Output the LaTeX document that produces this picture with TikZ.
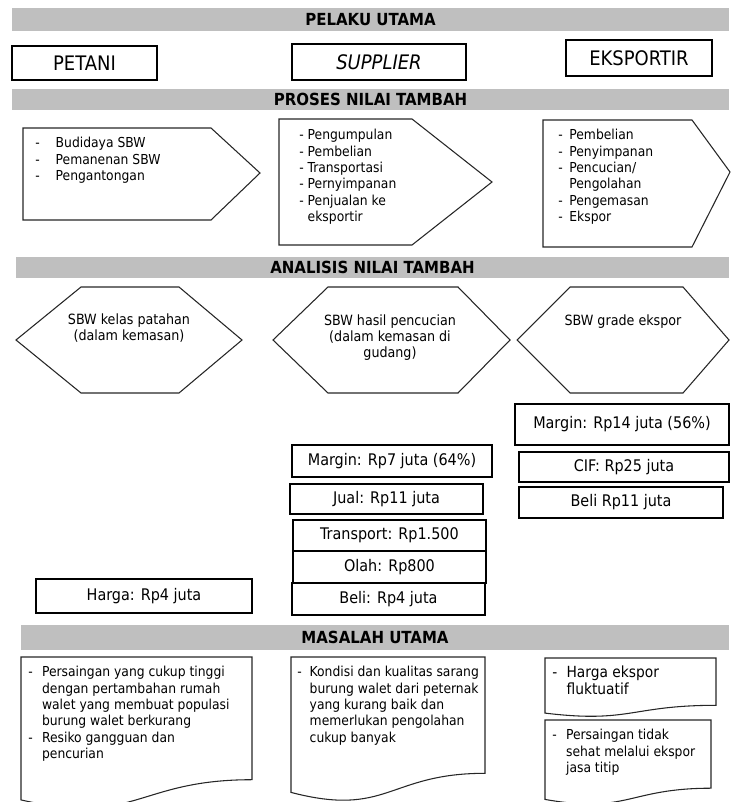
\documentclass[tikz,border=0pt]{standalone}
\usepackage{fontspec}
\setmainfont{DejaVu Sans Condensed}
\definecolor{barGray}{RGB}{191,191,191}
\tikzset{
	head bar/.style={fill=barGray, inner sep=0pt, font=\fontsize{12.5}{14}\selectfont\bfseries},
	actor box/.style={draw, line width=0.8pt, inner sep=0pt, font=\fontsize{15}{17}\selectfont},
	value box/.style={draw, line width=0.8pt, inner sep=0pt, font=\fontsize{12}{14}\selectfont},
	list text/.style={inner sep=0pt, anchor=north west, font=\fontsize{10.3}{12.3}\selectfont},
	hex text/.style={inner sep=0pt, anchor=north, align=center, font=\fontsize{10.6}{12}\selectfont},
	shape line/.style={draw=black!85, line width=0.8pt, line join=miter},
}

\begin{document}
\begin{tikzpicture}[x=0.75pt, y=-0.75pt]
\useasboundingbox (0,0) rectangle (731,802);

% pelaku utama
\node[head bar, minimum width=537.75pt, minimum height=17.25pt] (barPelaku) at (370.5,19.5) {PELAKU UTAMA};
\node[actor box, minimum width=108.75pt, minimum height=25.5pt] (petani) at (84.5,63) {PETANI};
\node[actor box, minimum width=130.5pt, minimum height=27pt] (supplier) at (379,62) {\itshape SUPPLIER};
\node[actor box, minimum width=109.5pt, minimum height=27pt] (eksportir) at (639,58) {EKSPORTIR};

% proses nilai tambah
\node[head bar, minimum width=537.75pt, minimum height=15.75pt] (barProses) at (370.5,99.5) {PROSES NILAI TAMBAH};
\draw[shape line] (23,128) -- (211,128) -- (260,173) -- (211,220) -- (23,220) -- cycle;
\draw[shape line] (279,119) -- (412,119) -- (492,182) -- (412,245) -- (279,245) -- cycle;
\draw[shape line] (543,120) -- (692,120) -- (730,172) -- (692,247) -- (543,247) -- cycle;
\node[list text] (prosesPetani) at (35,136) {%
  \begin{tabular}{@{}l@{\hspace{12pt}}l@{}}
  - & Budidaya SBW\\
  - & Pemanenan SBW\\
  - & Pengantongan
  \end{tabular}};
\node[list text] (prosesSupplier) at (299,128) {%
  \begin{tabular}{@{}l@{\hspace{3pt}}l@{}}
  - & Pengumpulan\\
  - & Pembelian\\
  - & Transportasi\\
  - & Pernyimpanan\\
  - & Penjualan ke\\
    & eksportir
  \end{tabular}};
\node[list text] (prosesEksportir) at (558,128) {%
  \begin{tabular}{@{}l@{\hspace{5pt}}l@{}}
  - & Pembelian\\
  - & Penyimpanan\\
  - & Pencucian/\\
    & Pengolahan\\
  - & Pengemasan\\
  - & Ekspor
  \end{tabular}};

% analisis nilai tambah
\node[head bar, minimum width=534.75pt, minimum height=15.75pt] (barAnalisis) at (372.5,267.5) {ANALISIS NILAI TAMBAH};
\draw[shape line] (16,340) -- (81,287) -- (179,287) -- (242,340) -- (179,393) -- (81,393) -- cycle;
\draw[shape line] (273,340) -- (328,287) -- (458,287) -- (510,340) -- (458,393) -- (328,393) -- cycle;
\draw[shape line] (517,340) -- (570,287) -- (683,287) -- (729,340) -- (683,393) -- (570,393) -- cycle;
\node[hex text] (hexPetani) at (129,313) {SBW kelas patahan\\(dalam kemasan)};
\node[hex text] (hexSupplier) at (390,314) {SBW hasil pencucian\\(dalam kemasan di\\gudang)};
\node[hex text] (hexEksportir) at (623,314) {SBW grade ekspor};

\node[value box, minimum width=160.5pt, minimum height=30.75pt] (marginEks) at (622,424.5) {Margin: Rp14 juta (56\%)};
\node[value box, minimum width=157.5pt, minimum height=22.5pt] (cifEks) at (624,467) {CIF: Rp25 juta};
\node[value box, minimum width=153pt, minimum height=23.25pt] (beliEks) at (621,502.5) {Beli Rp11 juta};
\node[value box, minimum width=150pt, minimum height=24pt] (marginSup) at (392,461) {Margin: Rp7 juta (64\%)};
\node[value box, minimum width=144.75pt, minimum height=22.5pt] (jualSup) at (386.5,499) {Jual: Rp11 juta};
\node[value box, minimum width=144.75pt, minimum height=23.25pt] (transSup) at (389.5,535.5) {Transport: Rp1.500};
\node[value box, minimum width=144.75pt, minimum height=24pt] (olahSup) at (389.5,567) {Olah: Rp800};
\node[value box, minimum width=144.75pt, minimum height=24pt] (beliSup) at (388.5,599) {Beli: Rp4 juta};
\node[value box, minimum width=162pt, minimum height=25.5pt] (hargaPet) at (144,596) {Harga: Rp4 juta};

% masalah utama
\node[head bar, minimum width=531pt, minimum height=18.75pt] (barMasalah) at (375,637.5) {MASALAH UTAMA};
\draw[shape line] (21,657) -- (252,657) -- (252,779.7) .. controls (136.5,779.7) and (136.5,826.5) .. (21,799.9) -- cycle;
\draw[shape line] (291,657) -- (485,657) -- (485,773.3) .. controls (388,773.3) and (388,817.7) .. (291,792.4) -- cycle;
\draw[shape line] (545,658) -- (716,658) -- (716,705.3) .. controls (630.5,705.3) and (630.5,723.4) .. (545,713.1) -- cycle;
\draw[shape line] (545,720) -- (711,720) -- (711,788.2) .. controls (628,788.2) and (628,814.2) .. (545,799.4) -- cycle;
\node[list text] (masalahPetani) at (28,665) {%
  \begin{tabular}{@{}l@{\hspace{7pt}}l@{}}
  - & Persaingan yang cukup tinggi\\
    & dengan pertambahan rumah\\
    & walet yang membuat populasi\\
    & burung walet berkurang\\
  - & Resiko gangguan dan\\
    & pencurian
  \end{tabular}};
\node[list text] (masalahSupplier) at (297,665) {%
  \begin{tabular}{@{}l@{\hspace{6pt}}l@{}}
  - & Kondisi dan kualitas sarang\\
    & burung walet dari peternak\\
    & yang kurang baik dan\\
    & memerlukan pengolahan\\
    & cukup banyak
  \end{tabular}};
\node[list text, font=\fontsize{11.5}{13}\selectfont] (masalahEks1) at (552,665) {%
  \begin{tabular}{@{}l@{\hspace{7pt}}l@{}}
  - & Harga ekspor\\
    & fluktuatif
  \end{tabular}};
\node[list text] (masalahEks2) at (552,728) {%
  \begin{tabular}{@{}l@{\hspace{7pt}}l@{}}
  - & Persaingan tidak\\
    & sehat melalui ekspor\\
    & jasa titip
  \end{tabular}};

\end{tikzpicture}
\end{document}
